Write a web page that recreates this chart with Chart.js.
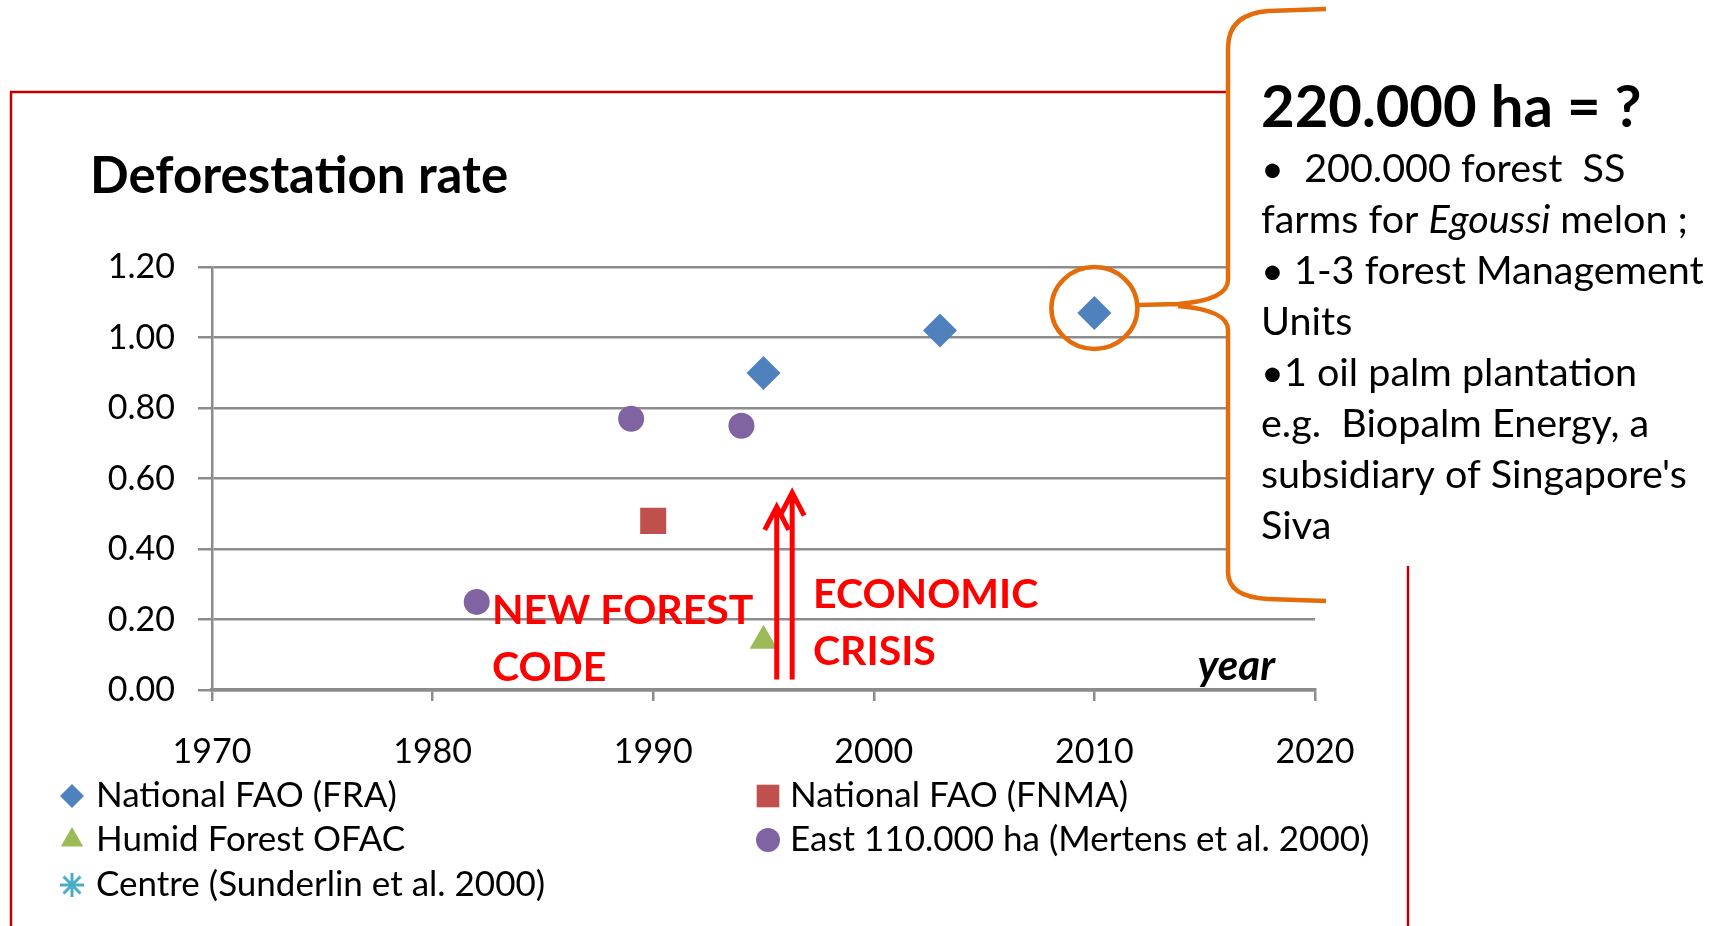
<!DOCTYPE html>
<html>
<head>
<meta charset="utf-8">
<title>Deforestation rate</title>
<script src="https://cdn.jsdelivr.net/npm/chart.js"></script>
<style>
    body {
        margin: 0;
        background-color: #ffffff;
    }

    #rateChart {
        display: block;
    }
</style>
</head>
<body>
<canvas id="rateChart" width="1716" height="926"></canvas>

<script>
    // values
    const fraYears = [1995, 2003, 2010];
    const fraRates = [0.90, 1.02, 1.07];
    const fnmaYears = [1990];
    const fnmaRates = [0.48];
    const ofacYears = [1995];
    const ofacRates = [0.14];
    const eastYears = [1982, 1989, 1994];
    const eastRates = [0.25, 0.77, 0.75];
    const centreYears = [];
    const centreRates = [];

    const seriesNames = [
        'National FAO (FRA)',
        'National FAO (FNMA)',
        'Humid Forest OFAC',
        'East 110.000 ha (Mertens et al. 2000)',
        'Centre (Sunderlin et al. 2000)'
    ];

    const boxTitle = '220.000 ha = ?';
    // each line is a list of [text, italic]
    const boxLines = [
        [['\u2022  200.000 forest  SS', false]],
        [['farms for ', false], ['Egoussi', true], [' melon ;', false]],
        [['\u2022 1-3 forest Management', false]],
        [['Units', false]],
        [['\u20221 oil palm plantation', false]],
        [['e.g.  Biopalm Energy, a', false]],
        [['subsidiary of Singapore\'s', false]],
        [['Siva', false]]
    ];

    const FONT = 'Lato, "Open Sans", sans-serif';

    function toPoints(xs, ys) {
        return xs.map((v, i) => ({ x: v, y: ys[i] }));
    }

    // drawing of the annotations around the plot
    const overlay = {
        id: 'overlay',
        afterDraw(chart) {
            const ctx = chart.ctx;
            const xs = chart.scales.x;
            const ys = chart.scales.y;
            ctx.save();

            // white text box that hides the top of the grid
            ctx.fillStyle = '#ffffff';
            ctx.fillRect(1229, 0, 487, 566);

            // red frame
            ctx.strokeStyle = '#c00000';
            ctx.lineWidth = 2.5;
            ctx.beginPath();
            ctx.moveTo(11, 926);
            ctx.lineTo(11, 92);
            ctx.lineTo(1229, 92);
            ctx.moveTo(1408, 566);
            ctx.lineTo(1408, 926);
            ctx.stroke();

            // orange ring round the 2010 value and the brace
            ctx.strokeStyle = '#e46c0a';
            ctx.lineWidth = 4.5;
            ctx.beginPath();
            ctx.ellipse(xs.getPixelForValue(2010), ys.getPixelForValue(1.07) - 5, 43, 41, 0, 0, Math.PI * 2);
            ctx.stroke();
            ctx.beginPath();
            ctx.moveTo(1326, 9);
            ctx.lineTo(1268, 11);
            ctx.quadraticCurveTo(1228, 14, 1228, 48);
            ctx.lineTo(1228, 280);
            ctx.quadraticCurveTo(1228, 300, 1178, 304);
            ctx.lineTo(1138, 305);
            ctx.moveTo(1178, 306);
            ctx.quadraticCurveTo(1228, 310, 1228, 330);
            ctx.lineTo(1228, 572);
            ctx.quadraticCurveTo(1228, 597, 1268, 599);
            ctx.lineTo(1326, 601);
            ctx.stroke();

            // box text
            ctx.fillStyle = '#000000';
            ctx.textBaseline = 'alphabetic';
            ctx.textAlign = 'left';
            ctx.font = 'bold 58px ' + FONT;
            ctx.fillText(boxTitle, 1261, 127);
            boxLines.forEach((line, i) => {
                let cx = 1261;
                line.forEach(([text, italic]) => {
                    ctx.font = (italic ? 'italic ' : '') + '39.5px ' + FONT;
                    ctx.fillText(text, cx, 182 + i * 51);
                    cx += ctx.measureText(text).width;
                });
            });

            // red arrows
            ctx.strokeStyle = '#ff0000';
            ctx.lineWidth = 5;
            const base = ys.getPixelForValue(0.03);
            [[1995.6, 0.52], [1996.3, 0.56]].forEach(([yr, top]) => {
                const ax = xs.getPixelForValue(yr);
                const ay = ys.getPixelForValue(top);
                ctx.beginPath();
                ctx.moveTo(ax, base);
                ctx.lineTo(ax, ay);
                ctx.moveTo(ax - 12, ay + 23);
                ctx.lineTo(ax, ay);
                ctx.lineTo(ax + 12, ay + 23);
                ctx.stroke();
            });

            // red labels
            ctx.fillStyle = '#ff0000';
            ctx.font = 'bold 41px ' + FONT;
            ctx.fillText('NEW FOREST', 492, 624);
            ctx.fillText('CODE', 492, 681);
            ctx.fillText('ECONOMIC', 813, 608);
            ctx.fillText('CRISIS', 813, 665);

            // axis name
            ctx.fillStyle = '#000000';
            ctx.font = 'italic bold 42px ' + FONT;
            ctx.textAlign = 'right';
            ctx.fillText('year', 1275, 680);

            // legend in two columns
            const slots = [[72, 796], [768, 796], [72, 840], [768, 840], [72, 885]];
            const markerSize = [12, 16, 13, 12, 12];
            ctx.textAlign = 'left';
            ctx.textBaseline = 'middle';
            chart.data.datasets.forEach((ds, i) => {
                const [lx, ly] = slots[i];
                ctx.fillStyle = ds.backgroundColor;
                ctx.strokeStyle = ds.borderColor;
                ctx.lineWidth = ds.pointStyle === 'star' ? 3 : 0;
                Chart.helpers.drawPoint(ctx, {
                    pointStyle: ds.pointStyle,
                    radius: markerSize[i],
                    rotation: 0,
                    borderWidth: ds.pointStyle === 'star' ? 3 : 0
                }, lx, ly);
                ctx.fillStyle = '#000000';
                ctx.font = '35px ' + FONT;
                ctx.fillText(ds.label, lx + (i % 2 === 0 ? 24 : 22), ly);
            });

            ctx.restore();
        }
    };

    function createChart() {
        const ctx = document.getElementById('rateChart').getContext('2d');
        new Chart(ctx, {
            type: 'scatter',
            data: {
                datasets: [{
                    label: seriesNames[0],
                    data: toPoints(fraYears, fraRates),
                    pointStyle: 'rectRot',
                    pointRadius: 17,
                    backgroundColor: '#4f81bd',
                    borderColor: '#4f81bd',
                    borderWidth: 0
                }, {
                    label: seriesNames[1],
                    data: toPoints(fnmaYears, fnmaRates),
                    pointStyle: 'rect',
                    pointRadius: 18.4,
                    backgroundColor: '#c0504d',
                    borderColor: '#c0504d',
                    borderWidth: 0
                }, {
                    label: seriesNames[2],
                    data: toPoints(ofacYears, ofacRates),
                    pointStyle: 'triangle',
                    pointRadius: 16,
                    backgroundColor: '#9bbb59',
                    borderColor: '#9bbb59',
                    borderWidth: 0
                }, {
                    label: seriesNames[3],
                    data: toPoints(eastYears, eastRates),
                    pointStyle: 'circle',
                    pointRadius: 13,
                    backgroundColor: '#8064a2',
                    borderColor: '#8064a2',
                    borderWidth: 0
                }, {
                    label: seriesNames[4],
                    data: toPoints(centreYears, centreRates),
                    pointStyle: 'star',
                    pointRadius: 13,
                    backgroundColor: '#4bacc6',
                    borderColor: '#4bacc6',
                    borderWidth: 3
                }]
            },
            options: {
                responsive: false,
                animation: false,
                layout: {
                    padding: { left: 90, right: 401, top: 0, bottom: 0 }
                },
                plugins: {
                    legend: { display: false },
                    tooltip: { enabled: false },
                    title: {
                        display: true,
                        text: 'Deforestation rate',
                        align: 'start',
                        color: '#000000',
                        font: { family: FONT, size: 51, weight: 'bold', lineHeight: 1.2 },
                        padding: { top: 146, bottom: 60 }
                    }
                },
                scales: {
                    x: {
                        type: 'linear',
                        min: 1970,
                        max: 2020,
                        afterFit(scale) { scale.height = 236; },
                        ticks: {
                            stepSize: 10,
                            padding: 31,
                            color: '#000000',
                            maxRotation: 0,
                            font: { family: FONT, size: 34 },
                            callback: v => String(v)
                        },
                        grid: {
                            drawOnChartArea: false,
                            drawTicks: true,
                            tickLength: 11,
                            color: '#8c8c8c',
                            lineWidth: 2.5
                        },
                        border: { color: '#8c8c8c', width: 3.5 }
                    },
                    y: {
                        min: 0,
                        max: 1.2,
                        afterFit(scale) { scale.width = 122; },
                        ticks: {
                            stepSize: 0.2,
                            padding: 23,
                            color: '#000000',
                            font: { family: FONT, size: 34 },
                            callback: v => v.toFixed(2)
                        },
                        grid: {
                            color: '#8c8c8c',
                            lineWidth: 2.5,
                            tickLength: 14
                        },
                        border: { color: '#8c8c8c', width: 2.5 }
                    }
                }
            },
            plugins: [overlay]
        });
    }

    createChart();
</script>
</body>
</html>
